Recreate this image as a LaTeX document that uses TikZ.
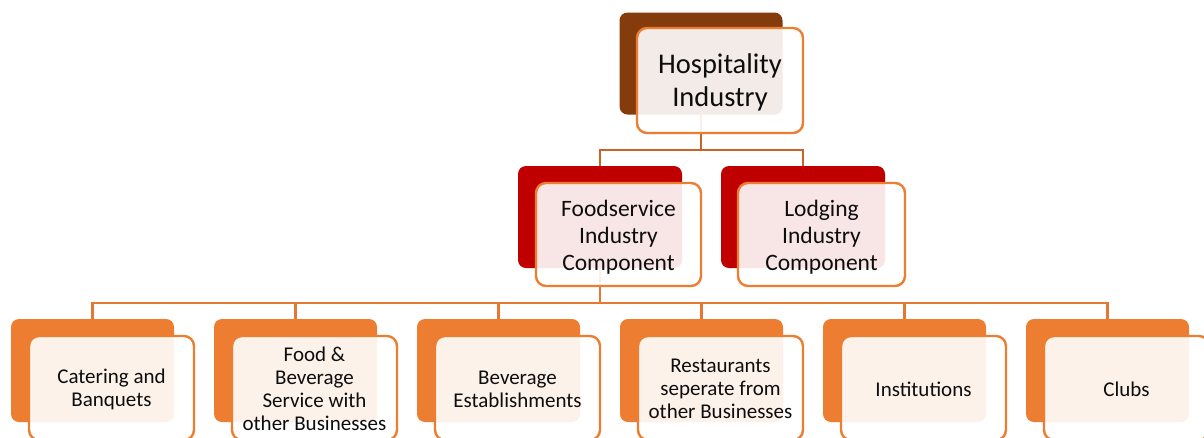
\documentclass[tikz,border=0pt]{standalone}
\usepackage{fontspec}
\setmainfont{Carlito}
\definecolor{dbrown}{HTML}{843C0C}
\definecolor{dred}{HTML}{C00000}
\definecolor{orng}{HTML}{ED7D31}
\definecolor{conA}{HTML}{C8642A}
\definecolor{conB}{HTML}{E57832}
\definecolor{txt}{HTML}{0D0D0D}
\tikzset{
  backbox/.style={rounded corners=8pt, inner sep=0pt, minimum width=163pt, minimum height=103pt},
  frontbox/.style={rounded corners=10pt, draw=orng, line width=2.4pt, fill=white, fill opacity=0.9, inner sep=0pt, minimum width=165pt, minimum height=104pt},
  label/.style={text=txt, inner sep=0pt, align=center},
  lvlA/.style={label, font=\fontsize{28.5}{33}\selectfont},
  lvlB/.style={label, font=\fontsize{23.5}{27}\selectfont},
  lvlC/.style={label, font=\fontsize{21}{23}\selectfont},
  conn/.style={line width=2.2pt},
}
\begin{document}
\begin{tikzpicture}[x=1pt,y=-1pt]
\path[use as bounding box, clip] (0,0) rectangle (1204,437);
% back boxes
\node[backbox, fill=dbrown, minimum height=102pt] (b0) at (701,63.5) {};
\node[backbox, fill=dred, minimum width=164pt, minimum height=102pt] (bF) at (600,217) {};
\node[backbox, fill=dred, minimum width=164pt, minimum height=102pt] (bL) at (803,217) {};
\node[backbox, fill=orng] (b1) at (92.5,370.5) {};
\node[backbox, fill=orng] (b2) at (295.5,370.5) {};
\node[backbox, fill=orng] (b3) at (498.5,370.5) {};
\node[backbox, fill=orng] (b4) at (701.5,370.5) {};
\node[backbox, fill=orng] (b5) at (904.5,370.5) {};
\node[backbox, fill=orng] (b6) at (1107.5,370.5) {};
% connectors
\path (0,150) coordinate (hA) (0,303) coordinate (hB);
\coordinate (jA) at (b0.south |- hA);
\coordinate (jB) at (bF.south |- hB);
\draw[conn, conA] (b0.south) -- (jA) -| (bF.north);
\draw[conn, conA] (jA) -| (bL.north);
\draw[conn, conB] (bF.south) -- (jB);
\draw[conn, conB] (jB) -| (b1.north);
\draw[conn, conB] (jB) -| (b2.north);
\draw[conn, conB] (jB) -| (b3.north);
\draw[conn, conB] (jB) -| (b4.north);
\draw[conn, conB] (jB) -| (b5.north);
\draw[conn, conB] (jB) -| (b6.north);
% front boxes
\node[frontbox, minimum width=166pt, minimum height=105pt] (f0) at (720,80.5) {};
\node[frontbox, minimum height=103pt] (fF) at (618.5,234.5) {};
\node[frontbox, minimum width=167pt, minimum height=103pt] (fL) at (821.5,234.5) {};
\node[frontbox] (f1) at (111.5,388) {};
\node[frontbox] (f2) at (314.5,388) {};
\node[frontbox] (f3) at (517.5,388) {};
\node[frontbox] (f4) at (720.5,388) {};
\node[frontbox] (f5) at (923.5,388) {};
\node[frontbox] (f6) at (1126.5,388) {};
% texts
\node[lvlA] (t0) at ([yshift=-2pt]f0.center) {Hospitality\\Industry};
\node[lvlB] (tF) at ([yshift=-2.5pt]fF.center) {Foodservice\\Industry\\Component};
\node[lvlB] (tL) at ([yshift=-2.5pt]fL.center) {Lodging\\Industry\\Component};
\node[lvlC] (t1) at ([yshift=-1pt]f1.center) {Catering and\\Banquets};
\node[lvlC] (t2) at ([yshift=-1pt]f2.center) {Food \&\\Beverage\\Service with\\other Businesses};
\node[lvlC] (t3) at ([yshift=-1pt]f3.center) {Beverage\\Establishments};
\node[lvlC] (t4) at ([yshift=-1pt]f4.center) {Restaurants\\seperate from\\other Businesses};
\node[lvlC] (t5) at ([yshift=-1pt]f5.center) {Institutions};
\node[lvlC] (t6) at ([yshift=-1pt]f6.center) {Clubs};
\end{tikzpicture}
\end{document}
